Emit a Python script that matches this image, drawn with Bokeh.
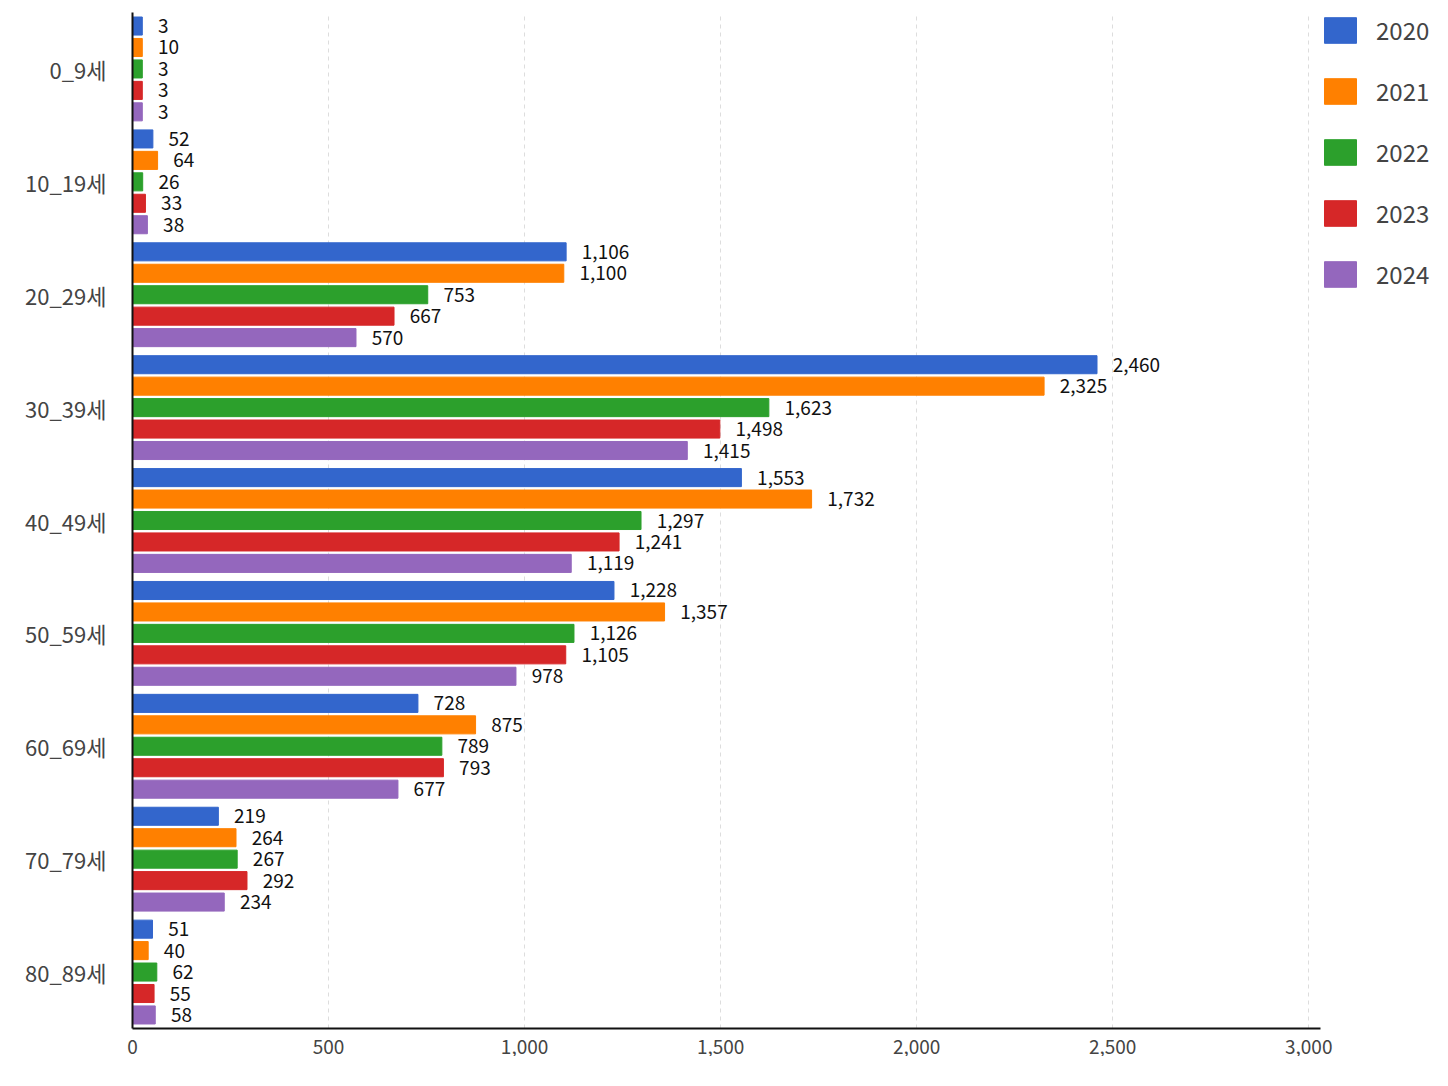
from bokeh.plotting import figure
from bokeh.models import ColumnDataSource, FactorRange, Range1d, Legend, LegendItem, NumeralTickFormatter, FixedTicker
from bokeh.transform import dodge
from bokeh.core.properties import value
from bokeh.embed import file_html
from bokeh.resources import INLINE

groups = ["0_9세","10_19세","20_29세","30_39세","40_49세","50_59세","60_69세","70_79세","80_89세"]
years = ["2020","2021","2022","2023","2024"]
v2020 = [3,52,1106,2460,1553,1228,728,219,51]
v2021 = [10,64,1100,2325,1732,1357,875,264,40]
v2022 = [3,26,753,1623,1297,1126,789,267,62]
v2023 = [3,33,667,1498,1241,1105,793,292,55]
v2024 = [3,38,570,1415,1119,978,677,234,58]
series = [v2020,v2021,v2022,v2023,v2024]
colors = ["#3366cc","#ff8000","#2ca02c","#d62728","#9467bd"]

F = "Noto Sans CJK KR"
p = figure(y_range=FactorRange(*reversed(groups)), x_range=Range1d(0,3030),
           frame_width=1188, frame_height=1016, output_backend="svg",
           toolbar_location=None, min_border_left=132, min_border_top=12,
           min_border_right=10, min_border_bottom=8)
offsets = [0.38,0.19,0.0,-0.19,-0.38]
items = []
for yr, vals, c, off in zip(years, series, colors, offsets):
    src = ColumnDataSource(dict(g=groups, v=[max(x, 25) for x in vals], lx=[max(x, 25)+40 for x in vals],
                                t=[f"{x:,}" for x in vals]))
    r = p.hbar(y=dodge("g", off, range=p.y_range), right="v", left=0, height=0.16,
               color=c, source=src)
    p.text(x="lx", y=dodge("g", off, range=p.y_range), text="t", source=src,
           text_font=value(F), text_font_size="19px", text_baseline="middle", text_color="#111")
    items.append(LegendItem(label=yr, renderers=[r]))
leg = Legend(items=items, glyph_width=40, glyph_height=32, spacing=26,
             label_text_font=F, label_text_font_size="24px", border_line_color=None,
             margin=0, padding=0, label_standoff=16, location="top_left")
p.add_layout(leg, "right")
leg.margin = 90
leg.margin = 0
leg.padding = 0
p.ygrid.grid_line_color = None
p.xgrid.grid_line_dash = "4 4"
p.xgrid.grid_line_color = "#dddddd"
p.outline_line_color = None
p.xaxis.ticker = FixedTicker(ticks=[0,500,1000,1500,2000,2500,3000])
p.xaxis.formatter = NumeralTickFormatter(format="0,0")
for ax in (p.xaxis, p.yaxis):
    ax.major_label_text_font = F
    ax.axis_line_color = "#111"
    ax.axis_line_width = 2
    ax.major_tick_line_color = None
    ax.minor_tick_line_color = None
p.xaxis.major_label_text_font_size = "19px"
p.yaxis.major_label_text_font_size = "22px"
p.yaxis.major_label_standoff = 20
open("out.html","w").write(file_html(p, INLINE))
